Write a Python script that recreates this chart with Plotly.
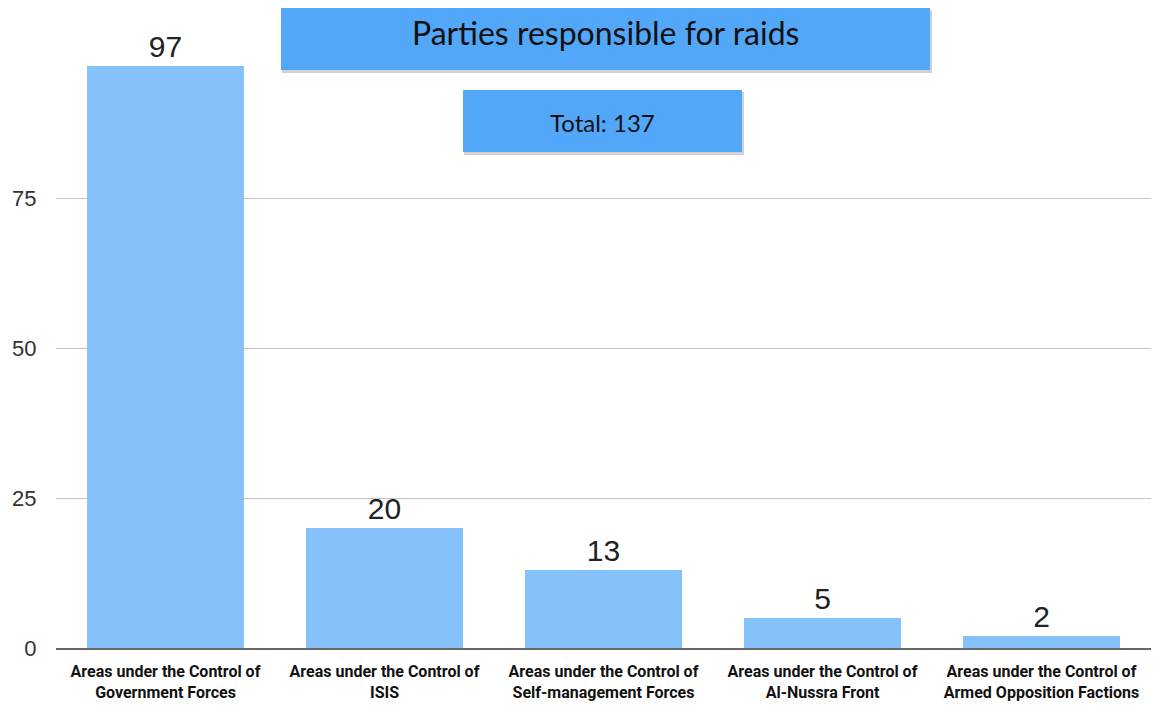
import plotly.graph_objects as go

categories = [
    "Areas under the Control of<br>Government Forces",
    "Areas under the Control of<br>ISIS",
    "Areas under the Control of<br>Self-management Forces",
    "Areas under the Control of<br>Al-Nussra Front",
    "Areas under the Control of<br>Armed Opposition Factions",
]
values = [97, 20, 13, 5, 2]
title_text = "Parties responsible for raids"
total_text = "Total: 137"
y_ticks = [0, 25, 50, 75]

BAR = "#85c1fa"
BOX = "#52a7f9"

fig = go.Figure(go.Bar(
    x=categories, y=values, marker=dict(color=BAR, line=dict(width=0)),
    text=[str(v) for v in values], textposition="outside",
    textfont=dict(family="Liberation Sans, Arial, sans-serif", size=30, color="#222"),
    cliponaxis=False, width=0.717,
))

L, R, T, B = 56, 3, 54, 67
W, H = 1154, 715
pw, ph = W - L - R, H - T - B

def px_x(x):
    return (x - L) / pw

def px_y(y):
    return (H - B - y) / ph

shapes = []
annotations = []
for (x0, y0, x1, y1, txt, fs, dy) in [(281, 8, 930, 70, title_text, 32, -7), (463, 90, 742, 152, total_text, 24, 2)]:
    shapes.append(dict(type="rect", xref="paper", yref="paper",
                       x0=px_x(x0 + 1), x1=px_x(x1 + 2), y0=px_y(y1 + 3), y1=px_y(y0 + 2),
                       fillcolor="rgba(0,0,0,0.18)", line=dict(width=0), layer="above"))
    shapes.append(dict(type="rect", xref="paper", yref="paper",
                       x0=px_x(x0), x1=px_x(x1), y0=px_y(y1), y1=px_y(y0),
                       fillcolor=BOX, line=dict(width=0), layer="above"))
    annotations.append(dict(xref="paper", yref="paper", x=(px_x(x0) + px_x(x1)) / 2,
                            y=px_y((y0 + y1) / 2 + dy), text=txt, showarrow=False,
                            xanchor="center", yanchor="middle",
                            font=dict(family="Lato, Open Sans, sans-serif", size=fs, color="#111")))

fig.update_layout(
    width=W, height=H, margin=dict(l=L, r=R, t=T, b=B, autoexpand=False),
    paper_bgcolor="white", plot_bgcolor="white", showlegend=False,
    bargap=0.283, shapes=shapes, annotations=annotations,
    xaxis=dict(showline=True, linecolor="#666", linewidth=2, ticks="outside", ticklen=8,
               tickcolor="rgba(0,0,0,0)", tickangle=0, automargin=False,
               tickfont=dict(family="Roboto, sans-serif", size=16, color="#111", weight="bold"),
               fixedrange=True),
    yaxis=dict(range=[0, 99], tickvals=y_ticks, showgrid=True, gridcolor="#c4c4c4", gridwidth=1,
               zeroline=False, ticks="outside", ticklen=14, tickcolor="rgba(0,0,0,0)",
               automargin=False,
               tickfont=dict(family="Liberation Sans, Arial, sans-serif", size=22, color="#333")),
)

fig.write_html("out.html")
